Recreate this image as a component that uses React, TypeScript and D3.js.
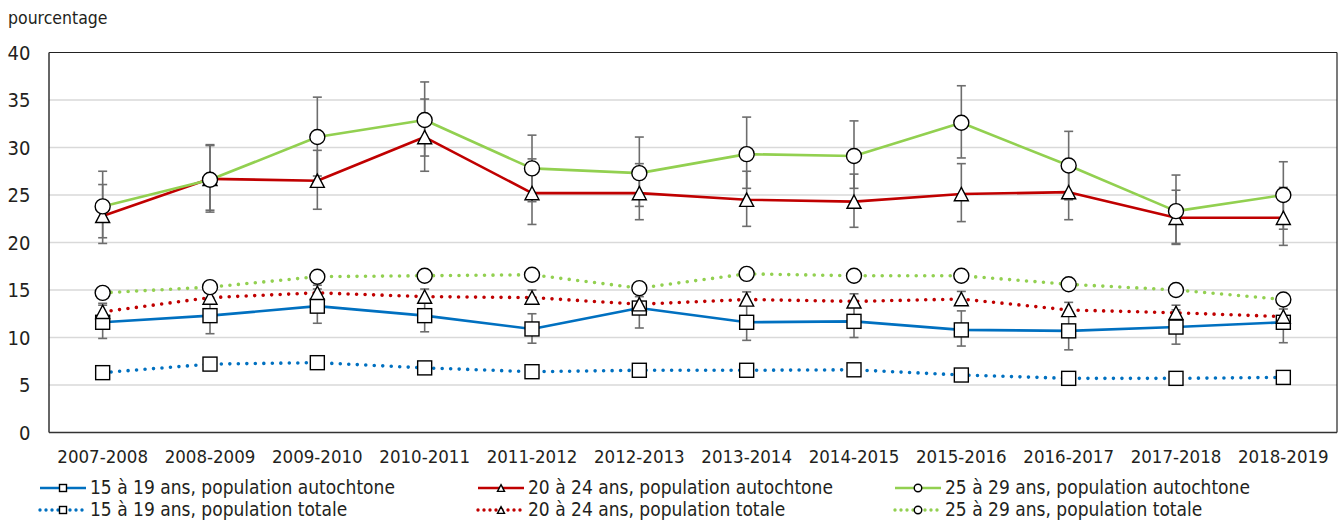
import React from "react";
import * as d3 from "d3";

const categories = ["2007-2008","2008-2009","2009-2010","2010-2011","2011-2012","2012-2013","2013-2014","2014-2015","2015-2016","2016-2017","2017-2018","2018-2019"];

const blueAuto = [11.6,12.3,13.3,12.3,10.9,13.1,11.6,11.7,10.8,10.7,11.1,11.6];
const blueAutoLow = [9.9,10.4,11.5,10.6,9.4,11.0,9.7,10.0,9.1,8.7,9.3,9.45];
const blueAutoHigh = [13.4,14.2,15.1,14.0,12.5,15.2,13.5,13.4,12.8,12.7,12.9,13.6];

const redAuto = [22.8,26.7,26.5,31.1,25.2,25.2,24.5,24.3,25.1,25.3,22.6,22.6];
const redAutoLow = [19.9,23.4,23.5,27.5,21.9,22.4,21.7,21.6,22.2,22.4,19.9,19.7];
const redAutoHigh = [26.1,30.2,29.7,35.1,28.8,28.3,27.5,27.2,28.3,28.2,25.5,25.8];

const greenAuto = [23.8,26.6,31.1,32.9,27.8,27.3,29.3,29.1,32.6,28.1,23.3,25.0];
const greenAutoLow = [20.5,23.2,27.0,29.1,24.3,23.8,25.7,25.7,28.9,24.5,19.8,21.4];
const greenAutoHigh = [27.5,30.3,35.3,36.9,31.3,31.1,33.2,32.8,36.5,31.7,27.1,28.5];

const blueTotal = [6.3,7.2,7.35,6.8,6.4,6.55,6.55,6.6,6.05,5.7,5.7,5.8];
const redTotal = [12.7,14.2,14.7,14.3,14.2,13.5,14.0,13.8,14.05,12.9,12.6,12.2];
const redTotalLow = [12.5,14.0,14.5,14.1,14.0,13.3,13.8,13.6,13.85,12.7,12.4,12.0];
const redTotalHigh = [13.6,15.0,15.5,15.1,15.0,14.3,14.8,14.6,14.85,13.7,13.4,13.0];
const greenTotal = [14.7,15.3,16.4,16.5,16.6,15.2,16.7,16.5,16.5,15.6,15.0,14.0];

const yTicks = [0,5,10,15,20,25,30,35,40];

const legendLabels = [
  "15 à 19 ans, population autochtone",
  "20 à 24 ans, population autochtone",
  "25 à 29 ans, population autochtone",
  "15 à 19 ans, population totale",
  "20 à 24 ans, population totale",
  "25 à 29 ans, population totale",
];

const BLUE = "#0070c0";
const RED = "#c00000";
const GREEN = "#92d050";
const FONT = "'Liberation Sans Narrow', 'DejaVu Sans Condensed', 'Liberation Sans', sans-serif";
const TEXT = "#231f20";

type Shape = "square" | "triangle" | "circle";

function Marker({ shape, x, y, s }: { shape: Shape; x: number; y: number; s: number }) {
  const common = { fill: "#fff", stroke: "#000", strokeWidth: 1.4 };
  if (shape === "square") {
    return <rect x={x - s / 2} y={y - s / 2} width={s} height={s} {...common} />;
  }
  if (shape === "circle") {
    return <circle cx={x} cy={y} r={s / 2} {...common} />;
  }
  const h = s * 0.95;
  const p = `M${x},${y - h / 2}L${x + s / 2},${y + h / 2}L${x - s / 2},${y + h / 2}Z`;
  return <path d={p} {...common} />;
}

export default function App() {
  const W = 1339, H = 526;
  const left = 49, right = 1337, top = 52.5, bottom = 432.5;
  const x = d3.scalePoint<string>().domain(categories).range([left, right]).padding(0.5);
  const y = d3.scaleLinear().domain([0, 40]).range([bottom, top]);
  const line = d3.line<number>().x((_, i) => x(categories[i]) as number).y((d) => y(d));

  const series = [
    { values: blueAuto, color: BLUE, dotted: false, shape: "square" as Shape },
    { values: redAuto, color: RED, dotted: false, shape: "triangle" as Shape },
    { values: greenAuto, color: GREEN, dotted: false, shape: "circle" as Shape },
    { values: blueTotal, color: BLUE, dotted: true, shape: "square" as Shape },
    { values: redTotal, color: RED, dotted: true, shape: "triangle" as Shape },
    { values: greenTotal, color: GREEN, dotted: true, shape: "circle" as Shape },
  ];
  const errors = [
    { low: greenAutoLow, high: greenAutoHigh },
    { low: redAutoLow, high: redAutoHigh },
    { low: blueAutoLow, high: blueAutoHigh },
    { low: redTotalLow, high: redTotalHigh },
  ];
  const markerOrder = [3, 0, 4, 1, 5, 2];

  const legendCols = [40, 478, 895];
  const legendRows = [494, 516];
  const lineLen = 46;

  return (
    <svg width={W} height={H} style={{ position: "absolute", left: 0, top: 0, background: "#fff" }} fontFamily={FONT}>
      <text x={8} y={24} fontSize={17.5} fill={TEXT}>pourcentage</text>
      {yTicks.map((t) => (
        <g key={t}>
          {t > 0 && t < 40 && <line x1={left} x2={right} y1={y(t)} y2={y(t)} stroke="#d9d9d9" strokeWidth={1.3} />}
          <text x={30.5} y={y(t) + 7} fontSize={20} textAnchor="end" fill={TEXT}>{t}</text>
        </g>
      ))}
      <line x1={left} x2={right} y1={top} y2={top} stroke="#222" strokeWidth={1.2} />
      <line x1={right} x2={right} y1={top} y2={bottom} stroke="#222" strokeWidth={1.2} />
      <line x1={left} x2={left} y1={top} y2={bottom} stroke="#333" strokeWidth={1.5} />
      <line x1={left} x2={right} y1={bottom} y2={bottom} stroke="#333" strokeWidth={1.5} />
      {categories.map((c) => (
        <text key={c} x={x(c)} y={462.5} fontSize={18.5} textAnchor="middle" fill={TEXT}>{c}</text>
      ))}
      {series.map((s, i) => (
        <path key={i} d={line(s.values) || ""} fill="none" stroke={s.color}
          strokeWidth={s.dotted ? 3.6 : 2.6}
          strokeDasharray={s.dotted ? "0 8.5" : undefined}
          strokeLinecap={s.dotted ? "round" : "butt"} strokeLinejoin="round" />
      ))}
      {errors.map((e, i) => (
        <g key={i} stroke="#6d6d6d" strokeWidth={1.6}>
          {categories.map((c, j) => {
            const cx = x(c) as number;
            return (
              <g key={c}>
                <line x1={cx} x2={cx} y1={y(e.low[j])} y2={y(e.high[j])} />
                <line x1={cx - 4.5} x2={cx + 4.5} y1={y(e.low[j])} y2={y(e.low[j])} />
                <line x1={cx - 4.5} x2={cx + 4.5} y1={y(e.high[j])} y2={y(e.high[j])} />
              </g>
            );
          })}
        </g>
      ))}
      {markerOrder.map((si) => (
        <g key={si}>
          {series[si].values.map((v, j) => (
            <Marker key={j} shape={series[si].shape} x={x(categories[j]) as number} y={y(v)} s={series[si].shape === "circle" ? 15 : 14} />
          ))}
        </g>
      ))}
      {series.map((s, i) => {
        const lx = legendCols[i % 3];
        const ly = legendRows[Math.floor(i / 3)];
        const cy = ly - 6;
        return (
          <g key={i}>
            <line x1={lx} x2={lx + lineLen} y1={cy} y2={cy} stroke={s.color}
              strokeWidth={s.dotted ? 3.4 : 2.6}
              strokeDasharray={s.dotted ? "0 6" : undefined}
              strokeLinecap={s.dotted ? "round" : "butt"} />
            <Marker shape={s.shape} x={lx + lineLen / 2} y={cy} s={s.shape === "circle" ? 7.5 : 7} />
            <text x={lx + lineLen + 4} y={ly} fontSize={19} fill={TEXT}>{legendLabels[i]}</text>
          </g>
        );
      })}
    </svg>
  );
}
